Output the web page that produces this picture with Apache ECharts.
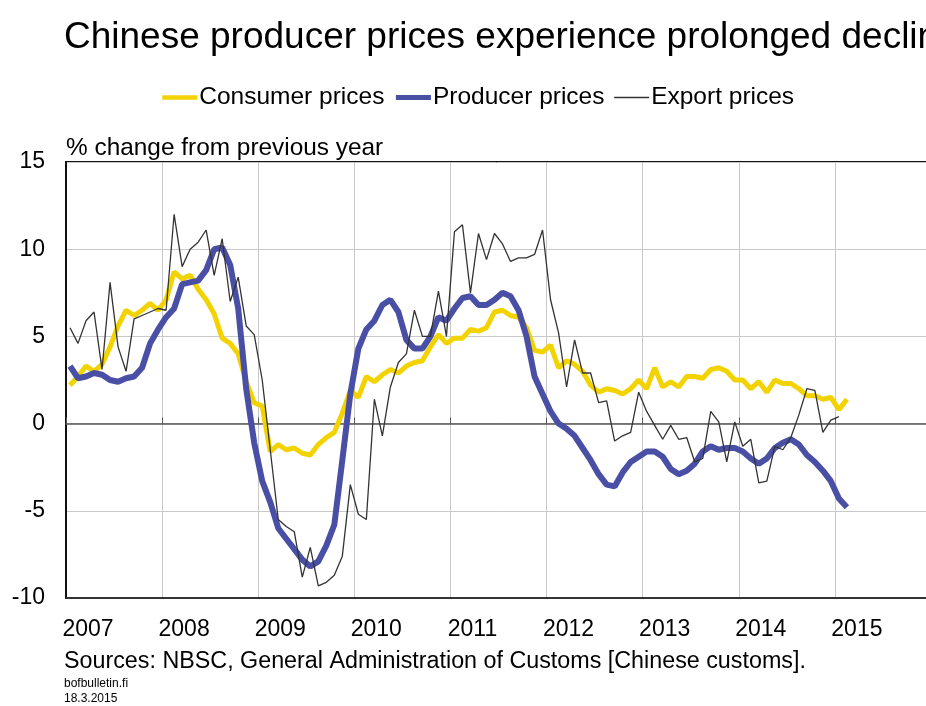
<!DOCTYPE html>
<html lang="en">
<head>
    <meta charset="utf-8">
    <title>Chinese producer prices</title>
    <script src="https://cdn.jsdelivr.net/npm/echarts@6/dist/echarts.min.js"></script>
    <style type="text/css">
        html, body { margin: 0; padding: 0; background: #fff; }
        #main { width: 926px; height: 706px; }
    </style>
</head>
<body>
    <div id="main"></div>
    <script type="text/javascript">
        // monthly series, first value = Jan 2007
        var startYear = 2007;
        var yearLabels = ['2007', '2008', '2009', '2010', '2011', '2012', '2013', '2014', '2015'];

        // Consumer prices, Jan 2007 - Feb 2015
        var consumerPrices = [
            2.2, 2.7, 3.3, 3.0, 3.4, 4.4, 5.6, 6.5, 6.2, 6.5, 6.9, 6.5,
            7.1, 8.7, 8.3, 8.5, 7.7, 7.1, 6.3, 4.9, 4.6, 4.0, 2.4, 1.2,
            1.0, -1.6, -1.2, -1.5, -1.4, -1.7, -1.8, -1.2, -0.8, -0.5, 0.6, 1.9,
            1.5, 2.7, 2.4, 2.8, 3.1, 2.9, 3.3, 3.5, 3.6, 4.4, 5.1, 4.6,
            4.9, 4.9, 5.4, 5.3, 5.5, 6.4, 6.5, 6.2, 6.1, 5.5, 4.2, 4.1,
            4.5, 3.2, 3.6, 3.4, 3.0, 2.2, 1.8, 2.0, 1.9, 1.7, 2.0, 2.5,
            2.0, 3.2, 2.1, 2.4, 2.1, 2.7, 2.7, 2.6, 3.1, 3.2, 3.0, 2.5,
            2.5, 2.0, 2.4, 1.8, 2.5, 2.3, 2.3, 2.0, 1.6, 1.6, 1.4, 1.5,
            0.8, 1.4
        ];

        // Producer prices, Jan 2007 - Feb 2015
        var producerPrices = [
            3.3, 2.6, 2.7, 2.9, 2.8, 2.5, 2.4, 2.6, 2.7, 3.2, 4.6, 5.4,
            6.1, 6.6, 8.0, 8.1, 8.2, 8.8, 10.0, 10.1, 9.1, 6.6, 2.0, -1.1,
            -3.3, -4.5, -6.0, -6.6, -7.2, -7.8, -8.2, -7.9, -7.0, -5.8, -2.1, 1.7,
            4.3, 5.4, 5.9, 6.8, 7.1, 6.4, 4.8, 4.3, 4.3, 5.0, 6.1, 5.9,
            6.6, 7.2, 7.3, 6.8, 6.8, 7.1, 7.5, 7.3, 6.5, 5.0, 2.7, 1.7,
            0.7, 0.0, -0.3, -0.7, -1.4, -2.1, -2.9, -3.5, -3.6, -2.8, -2.2, -1.9,
            -1.6, -1.6, -1.9, -2.6, -2.9, -2.7, -2.3, -1.6, -1.3, -1.5, -1.4, -1.4,
            -1.6, -2.0, -2.3, -2.0, -1.4, -1.1, -0.9, -1.2, -1.8, -2.2, -2.7, -3.3,
            -4.3, -4.8
        ];

        // Export prices, Jan 2007 - Jan 2015
        var exportPrices = [
            5.5, 4.6, 5.9, 6.4, 3.1, 8.1, 4.4, 3.0, 6.0, 6.2, 6.4, 6.6,
            6.5, 12.0, 9.0, 10.0, 10.4, 11.1, 8.5, 10.6, 7.0, 8.4, 5.6, 5.1,
            2.5, -1.5, -5.5, -5.9, -6.2, -8.8, -7.1, -9.3, -9.1, -8.7, -7.6, -3.5,
            -5.2, -5.5, 1.4, -0.7, 2.1, 3.5, 4.0, 6.5, 5.0, 5.0, 7.6, 5.0,
            11.0, 11.4, 7.5, 10.9, 9.4, 10.9, 10.3, 9.3, 9.5, 9.5, 9.7, 11.1,
            7.1, 5.2, 2.1, 4.8, 2.9, 2.9, 1.2, 1.3, -1.0, -0.7, -0.5, 1.8,
            0.7, -0.1, -0.9, -0.1, -0.9, -0.8, -2.2, -2.0, 0.7, 0.1, -2.2, 0.1,
            -1.3, -0.9, -3.4, -3.3, -1.3, -1.5, -0.8, 0.5, 2.0, 1.9, -0.5, 0.2,
            0.4
        ];

        var FONT = "'Liberation Sans', Arial, sans-serif";

        // month i -> point in the middle of that month on a year scale
        function toPoints(arr) {
            return arr.map(function (v, i) {
                return [startYear + (i + 0.5) / 12, v];
            });
        }

        var chartDom = document.getElementById('main');
        var myChart = echarts.init(chartDom, null, { renderer: 'canvas' });

        var option = {
            backgroundColor: '#fff',
            animation: false,
            textStyle: { fontFamily: FONT, color: '#000' },
            title: {
                text: 'Chinese producer prices experience prolonged decline',
                left: 59,
                top: 14,
                textStyle: { fontFamily: FONT, fontSize: 37, fontWeight: 'normal', color: '#000' }
            },
            legend: {
                left: 155,
                top: 80,
                itemWidth: 35,
                itemHeight: 14,
                itemGap: 9,
                itemStyle: { opacity: 0 },
                textStyle: { fontFamily: FONT, fontSize: 24.5, color: '#000', padding: [0, 0, 0, -3] },
                data: [
                    { name: 'Consumer prices', lineStyle: { width: 4.5 } },
                    { name: 'Producer prices', lineStyle: { width: 5 } },
                    { name: 'Export prices', lineStyle: { width: 1.3 } }
                ]
            },
            grid: {
                left: 66,
                top: 162,
                width: 865,
                height: 436,
                show: true,
                borderColor: '#111',
                borderWidth: 2,
                containLabel: false,
                outerBoundsMode: 'none'
            },
            xAxis: [
                {
                    type: 'value',
                    min: 2007,
                    max: 2016,
                    interval: 1,
                    axisLine: { onZero: false, lineStyle: { color: '#333', width: 2 } },
                    axisTick: { show: false },
                    splitLine: { show: true, lineStyle: { color: '#c9c9c9', width: 1 } },
                    axisLabel: {
                        fontFamily: FONT,
                        fontSize: 23,
                        color: '#000',
                        margin: 20,
                        padding: [0, 0, 0, 44],
                        formatter: function (v) {
                            var s = String(Math.round(v));
                            return yearLabels.indexOf(s) >= 0 ? s : '';
                        }
                    }
                },
                {
                    // zero line with small year ticks
                    type: 'value',
                    min: 2007,
                    max: 2016,
                    interval: 1,
                    position: 'bottom',
                    axisLine: { onZero: true, lineStyle: { color: '#555', width: 1.5 } },
                    axisTick: { show: true, inside: true, length: 6, lineStyle: { color: '#555' } },
                    axisLabel: { show: false },
                    splitLine: { show: false }
                }
            ],
            yAxis: {
                type: 'value',
                min: -10,
                max: 15,
                interval: 5,
                axisLine: { show: true, lineStyle: { color: '#111', width: 2 } },
                axisTick: { show: false },
                splitLine: { show: true, lineStyle: { color: '#c9c9c9', width: 1 } },
                axisLabel: { fontFamily: FONT, fontSize: 23, color: '#000', margin: 21 }
            },
            graphic: [
                {
                    type: 'text',
                    left: 66,
                    top: 136,
                    style: { text: '% change from previous year', font: '24.4px ' + FONT, fill: '#000' }
                },
                {
                    type: 'text',
                    left: 64,
                    top: 650,
                    style: { text: 'Sources: NBSC, General Administration of Customs [Chinese customs].', font: '23.3px ' + FONT, fill: '#000' }
                },
                {
                    type: 'text',
                    left: 64,
                    top: 678,
                    style: { text: 'bofbulletin.fi', font: '12px ' + FONT, fill: '#000' }
                },
                {
                    type: 'text',
                    left: 64,
                    top: 693,
                    style: { text: '18.3.2015', font: '12px ' + FONT, fill: '#000' }
                }
            ],
            series: [
                {
                    name: 'Consumer prices',
                    type: 'line',
                    xAxisIndex: 0,
                    symbol: 'none',
                    color: '#f2d300',
                    lineStyle: { color: '#f2d300', width: 5 },
                    data: toPoints(consumerPrices)
                },
                {
                    name: 'Producer prices',
                    type: 'line',
                    xAxisIndex: 0,
                    symbol: 'none',
                    color: '#4a4fa6',
                    lineStyle: { color: '#4a4fa6', width: 6 },
                    data: toPoints(producerPrices)
                },
                {
                    name: 'Export prices',
                    type: 'line',
                    xAxisIndex: 0,
                    symbol: 'none',
                    color: '#333333',
                    lineStyle: { color: '#333333', width: 1.3 },
                    data: toPoints(exportPrices)
                }
            ]
        };

        option && myChart.setOption(option);
    </script>
</body>
</html>
